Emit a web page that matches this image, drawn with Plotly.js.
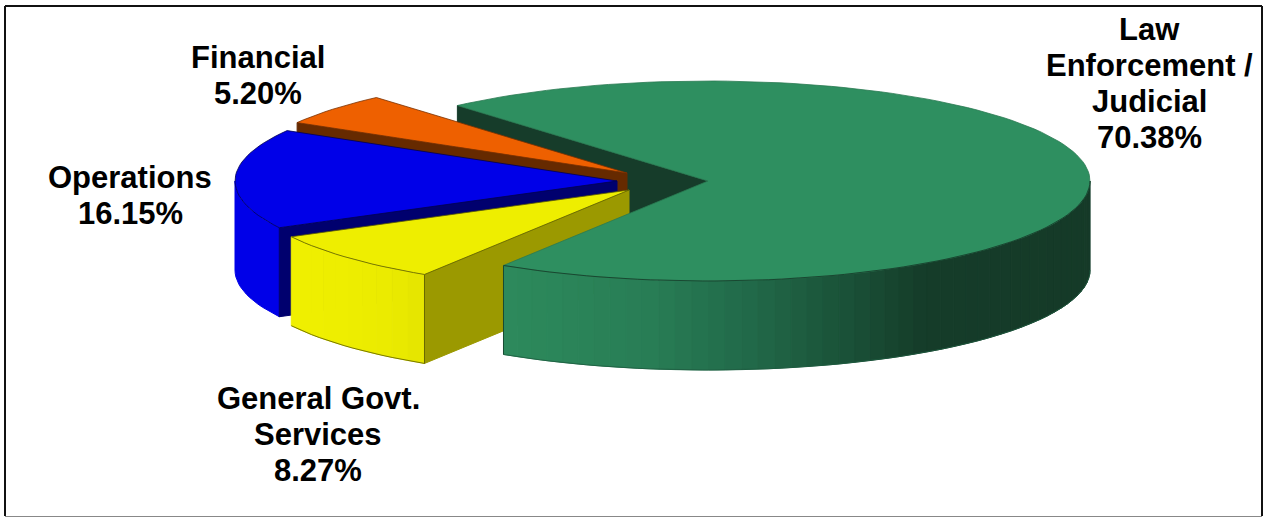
<!DOCTYPE html>
<html>
<head>
<meta charset="utf-8">
<script src="https://cdn.plot.ly/plotly-3.0.1.min.js"></script>
<style>html,body{margin:0;padding:0;background:#fff}#chart{width:1265px;height:518px}</style>
</head>
<body>
<div id="chart"></div>
<script>
// Data (clockwise from the start of the green slice)
var categories = ['Law Enforcement / Judicial', 'General Govt. Services', 'Operations', 'Financial'];
var shares = [70.38, 8.27, 16.15, 5.20];
var labelText = ['Law<br>Enforcement /<br>Judicial<br>70.38%', 'General Govt.<br>Services<br>8.27%', 'Operations<br>16.15%', 'Financial<br>5.20%'];

// Styles
var topColors = ['#2e8f60', '#eeee00', '#0000e8', '#ee6000'];
var cutColors = ['#163c2a', '#9b9900', '#00006e', '#662a00'];
var edgeColors = ['#2a7a52', '#5a5a00', '#000050', '#7a3000'];

// Geometry of the tilted pie, in picture pixels
var apexes = [[708, 181], [629, 190], [617, 181], [627, 173]];
var RX = 382, RY = 100, DEPTH = 89, START_ANGLE = 131;
var labelPos = [[1149, 83], [318, 434], [130, 195], [258, 75]];
var LINE_STEP = 36;

var greenStops = [[505, [45, 138, 92]], [650, [40, 125, 85]], [750, [33, 105, 73]], [850, [26, 80, 55]], [925, [21, 60, 41]], [1090, [21, 58, 40]]];
var yellowStops = [[292, [240, 240, 0]], [380, [236, 236, 0]], [426, [228, 228, 0]]];

function pt(a, deg, r) {
  var t = deg * Math.PI / 180;
  return [a[0] + RX * r * Math.cos(t), a[1] - RY * r * Math.sin(t)];
}
function arc(a, from, to, dy) {
  var n = Math.max(2, Math.ceil(Math.abs(to - from) / 2)), out = [];
  for (var i = 0; i <= n; i++) {
    var p = pt(a, from + (to - from) * i / n, 1);
    out.push([p[0], p[1] + (dy || 0)]);
  }
  return out;
}
function stopColor(stops, x) {
  if (x <= stops[0][0]) return 'rgb(' + stops[0][1].join(',') + ')';
  for (var i = 1; i < stops.length; i++) {
    if (x <= stops[i][0]) {
      var f = (x - stops[i - 1][0]) / (stops[i][0] - stops[i - 1][0]);
      var c = stops[i - 1][1].map(function (v, k) { return Math.round(v + (stops[i][1][k] - v) * f); });
      return 'rgb(' + c.join(',') + ')';
    }
  }
  return 'rgb(' + stops[stops.length - 1][1].join(',') + ')';
}

var traces = [];
function poly(points, fill, line, width) {
  traces.push({
    type: 'scatter', mode: 'lines', hoverinfo: 'skip', showlegend: false,
    x: points.map(function (p) { return p[0]; }).concat([points[0][0]]),
    y: points.map(function (p) { return p[1]; }).concat([points[0][1]]),
    fill: 'toself', fillcolor: fill,
    line: { color: line || fill, width: width === undefined ? 1 : width }
  });
}
function stroke(points, color, width) {
  traces.push({
    type: 'scatter', mode: 'lines', hoverinfo: 'skip', showlegend: false,
    x: points.map(function (p) { return p[0]; }),
    y: points.map(function (p) { return p[1]; }),
    line: { color: color, width: width || 1 }
  });
}
function shifted(p) { return [p[0], p[1] + DEPTH]; }

// Angular extents derived from the shares
var ranges = [], cursor = START_ANGLE;
shares.forEach(function (s) {
  var sweep = s / 100 * 360;
  ranges.push([cursor, cursor - sweep]);
  cursor -= sweep;
});

function cutFace(i, deg) {
  var a = apexes[i], p = pt(a, deg, 1);
  return [a, p, shifted(p), shifted(a)];
}
function sideStrips(i, from, to, stops, stepDeg) {
  var a = apexes[i], n = Math.ceil(Math.abs(to - from) / stepDeg);
  for (var k = 0; k < n; k++) {
    var d0 = from + (to - from) * k / n, d1 = from + (to - from) * (k + 1) / n;
    var p0 = pt(a, d0, 1), p1 = pt(a, d1, 1);
    poly([p0, p1, shifted(p1), shifted(p0)], stopColor(stops, (p0[0] + p1[0]) / 2));
  }
}
function sideSolid(i, from, to, color) {
  var a = apexes[i];
  poly(arc(a, from, to).concat(arc(a, to, from, DEPTH)), color);
}
function topFace(i, lineColor) {
  var a = apexes[i], r = ranges[i];
  poly([a].concat(arc(a, r[0], r[1])), topColors[i], lineColor || edgeColors[i], 0.8);
}
function norm(deg) { return deg < 0 ? deg + 360 : deg; }

// Back to front: green rear cut, orange, blue, yellow, green body
poly(cutFace(0, ranges[0][0]), cutColors[0]);

poly(cutFace(3, ranges[3][0]), cutColors[3]);
topFace(3);

// Only the front part of the blue rim (left extreme onward) is visible
sideSolid(2, 180, norm(ranges[2][0]), topColors[2]);
poly(cutFace(2, ranges[2][0]), cutColors[2]);
topFace(2);

sideStrips(1, ranges[1][1], ranges[1][0], yellowStops, 3);
poly(cutFace(1, ranges[1][0]), cutColors[1]);
stroke(arc(apexes[1], ranges[1][1], ranges[1][0], DEPTH), edgeColors[1], 0.8);
stroke([pt(apexes[1], ranges[1][0], 1), shifted(pt(apexes[1], ranges[1][0], 1))], edgeColors[1], 0.8);
topFace(1);

sideStrips(0, ranges[0][1], 0, greenStops, 2.5);
stroke(arc(apexes[0], ranges[0][1], 0, DEPTH), '#1d5a3f', 0.8);
stroke([pt(apexes[0], ranges[0][1], 1), shifted(pt(apexes[0], ranges[0][1], 1))], '#143a28', 0.8);
topFace(0);
stroke(arc(apexes[0], ranges[0][1], 0), '#143a28', 0.8);

// One annotation per line so the line spacing matches the picture
var annotations = [];
labelText.forEach(function (t, i) {
  var lines = t.split('<br>');
  lines.forEach(function (line, k) {
    annotations.push({
      text: '<b>' + line + '</b>',
      x: labelPos[i][0], y: labelPos[i][1] + (k - (lines.length - 1) / 2) * LINE_STEP,
      xref: 'x', yref: 'y', xanchor: 'center', yanchor: 'middle', showarrow: false,
      font: { family: '"Liberation Sans", Arial, sans-serif', size: 31, color: '#000' }
    });
  });
});

var layout = {
  width: 1265, height: 518,
  margin: { l: 0, r: 0, t: 0, b: 0 },
  paper_bgcolor: '#fff', plot_bgcolor: '#fff', showlegend: false,
  xaxis: { range: [0, 1265], visible: false, fixedrange: true },
  yaxis: { range: [518, 0], visible: false, fixedrange: true },
  annotations: annotations,
  shapes: [
    { type: 'line', xref: 'x', yref: 'y', x0: 5, x1: 1262, y0: 6, y1: 6, line: { color: '#111', width: 2 } },
    { type: 'line', xref: 'x', yref: 'y', x0: 5, x1: 5, y0: 6, y1: 516, line: { color: '#111', width: 2 } },
    { type: 'line', xref: 'x', yref: 'y', x0: 1262, x1: 1262, y0: 6, y1: 516, line: { color: '#111', width: 2 } },
    { type: 'line', xref: 'x', yref: 'y', x0: 5, x1: 1262, y0: 516.5, y1: 516.5, line: { color: '#888', width: 1 } }
  ]
};
Plotly.newPlot('chart', traces, layout, { displayModeBar: false, staticPlot: true });
</script>
</body>
</html>
